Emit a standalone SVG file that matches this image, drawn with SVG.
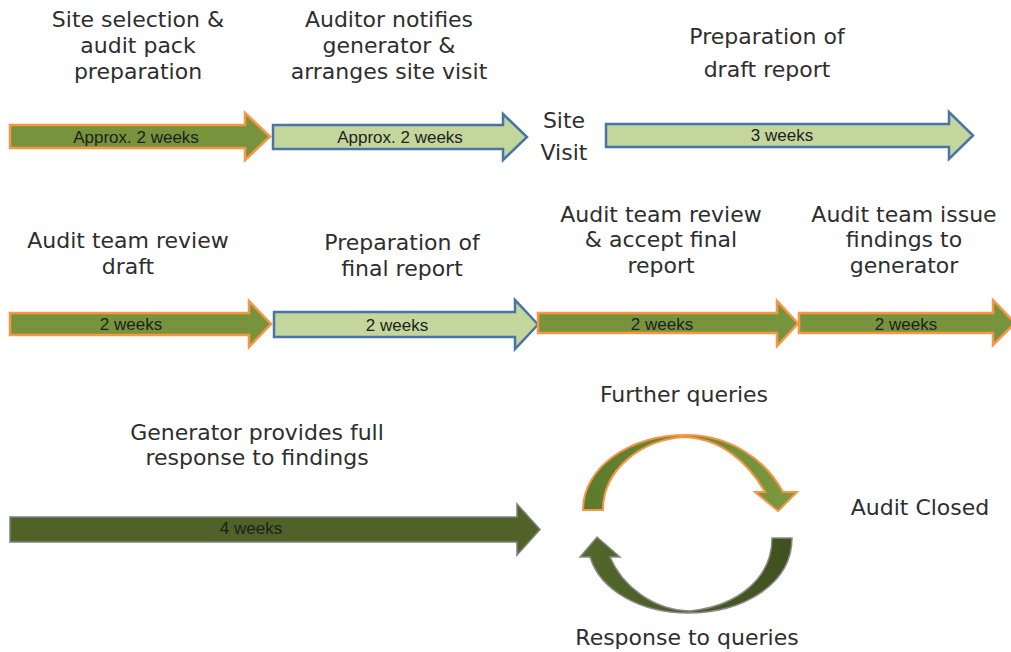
<svg xmlns="http://www.w3.org/2000/svg" width="1011" height="652" viewBox="0 0 1011 652">
<defs>
<linearGradient id="gTop" x1="0" y1="0" x2="1" y2="0">
<stop offset="0" stop-color="#5c7a2c"/>
<stop offset="1" stop-color="#7d9a3f"/>
</linearGradient>
<linearGradient id="gBot" x1="0" y1="0" x2="1" y2="0">
<stop offset="0" stop-color="#52682a"/>
<stop offset="1" stop-color="#3f5120"/>
</linearGradient>
</defs>
<style>
.lbl{font-family:"DejaVu Sans",Verdana,sans-serif;font-size:22px;fill:#2e2e2e;text-anchor:middle}
.in{font-family:"Liberation Sans",Arial,sans-serif;font-size:17px;fill:#1f1f1f;text-anchor:middle;dominant-baseline:central}
.ga{fill:#77933c;stroke:#f79646;stroke-width:2.5;stroke-linejoin:miter}
.la{fill:#c3d69b;stroke:#4a74a6;stroke-width:2.5;stroke-linejoin:miter}
.da{fill:#4f6228;stroke:#7f7f7f;stroke-width:1.5}
</style>

<g id="labels-top">
<text class="lbl" x="138" y="27">Site selection &amp;</text>
<text class="lbl" x="138" y="53">audit pack</text>
<text class="lbl" x="138" y="79">preparation</text>
<text class="lbl" x="389" y="27">Auditor notifies</text>
<text class="lbl" x="389" y="53">generator &amp;</text>
<text class="lbl" x="389" y="79">arranges site visit</text>
<text class="lbl" x="767" y="44">Preparation of</text>
<text class="lbl" x="767" y="77">draft report</text>
</g>

<g id="site-visit">
<text class="lbl" x="564" y="128">Site</text>
<text class="lbl" x="564" y="160">Visit</text>
</g>

<g id="step1">
<polygon class="ga" points="10,125 245,125 245,113 270,136.5 245,160 245,148 10,148"/>
<text class="in" x="136" y="137">Approx. 2 weeks</text>
</g>
<g id="step2">
<polygon class="la" points="273,125 503,125 503,114 527,137 503,160 503,149 273,149"/>
<text class="in" x="400" y="137">Approx. 2 weeks</text>
</g>
<g id="step3">
<polygon class="la" points="606,124 949,124 949,112 973,135.5 949,159 949,147 606,147"/>
<text class="in" x="782" y="135">3 weeks</text>
</g>

<g id="labels-mid">
<text class="lbl" x="128" y="248">Audit team review</text>
<text class="lbl" x="128" y="274">draft</text>
<text class="lbl" x="402" y="250">Preparation of</text>
<text class="lbl" x="402" y="276">final report</text>
<text class="lbl" x="661" y="222">Audit team review</text>
<text class="lbl" x="661" y="247">&amp; accept final</text>
<text class="lbl" x="661" y="273">report</text>
<text class="lbl" x="904" y="222">Audit team issue</text>
<text class="lbl" x="904" y="247">findings to</text>
<text class="lbl" x="904" y="273">generator</text>
</g>

<g id="step4">
<polygon class="ga" points="10,313 249,313 249,301 271,324 249,347 249,335 10,335"/>
<text class="in" x="131" y="324">2 weeks</text>
</g>
<g id="step5">
<polygon class="la" points="274,312 515,312 515,300 538,324.5 515,349 515,337 274,337"/>
<text class="in" x="397" y="325">2 weeks</text>
</g>
<g id="step6">
<polygon class="ga" points="538,313 777,313 777,301 798,323.5 777,346 777,333 538,333"/>
<text class="in" x="662" y="324">2 weeks</text>
</g>
<g id="step7">
<polygon class="ga" points="799,313 993,313 993,300 1015,323 993,345 993,333 799,333"/>
<text class="in" x="906" y="324">2 weeks</text>
</g>

<g id="labels-bottom">
<text class="lbl" x="257" y="440">Generator provides full</text>
<text class="lbl" x="257" y="465">response to findings</text>
<text class="lbl" x="684" y="402">Further queries</text>
<text class="lbl" x="687" y="645">Response to queries</text>
<text class="lbl" x="920" y="515">Audit Closed</text>
</g>

<g id="step8">
<polygon class="da" points="10,517 517,517 517,504 540,529.5 517,555 517,542 10,542"/>
<text class="in" x="251" y="528">4 weeks</text>
</g>

<g id="loop">
<path id="further" fill="url(#gTop)" stroke="#f79646" stroke-width="2" d="M583,510 C583,468 628,435 687,435 C728,435 765,458 783,492 L797,492 L778,511 L755,492 L765,492 C748,462 720,438 684,437 C640,440 603,470 603,510 Z"/>
<path id="response" fill="url(#gBot)" stroke="#8a8a8a" stroke-width="1.5" d="M792,538 C792,585 742,613 688,613 C640,613 600,590 590,557 L580,557 L597,537 L620,557 L610,557 C622,585 652,610 690,611 C738,606 772,578 772,538 Z"/>
</g>
</svg>
